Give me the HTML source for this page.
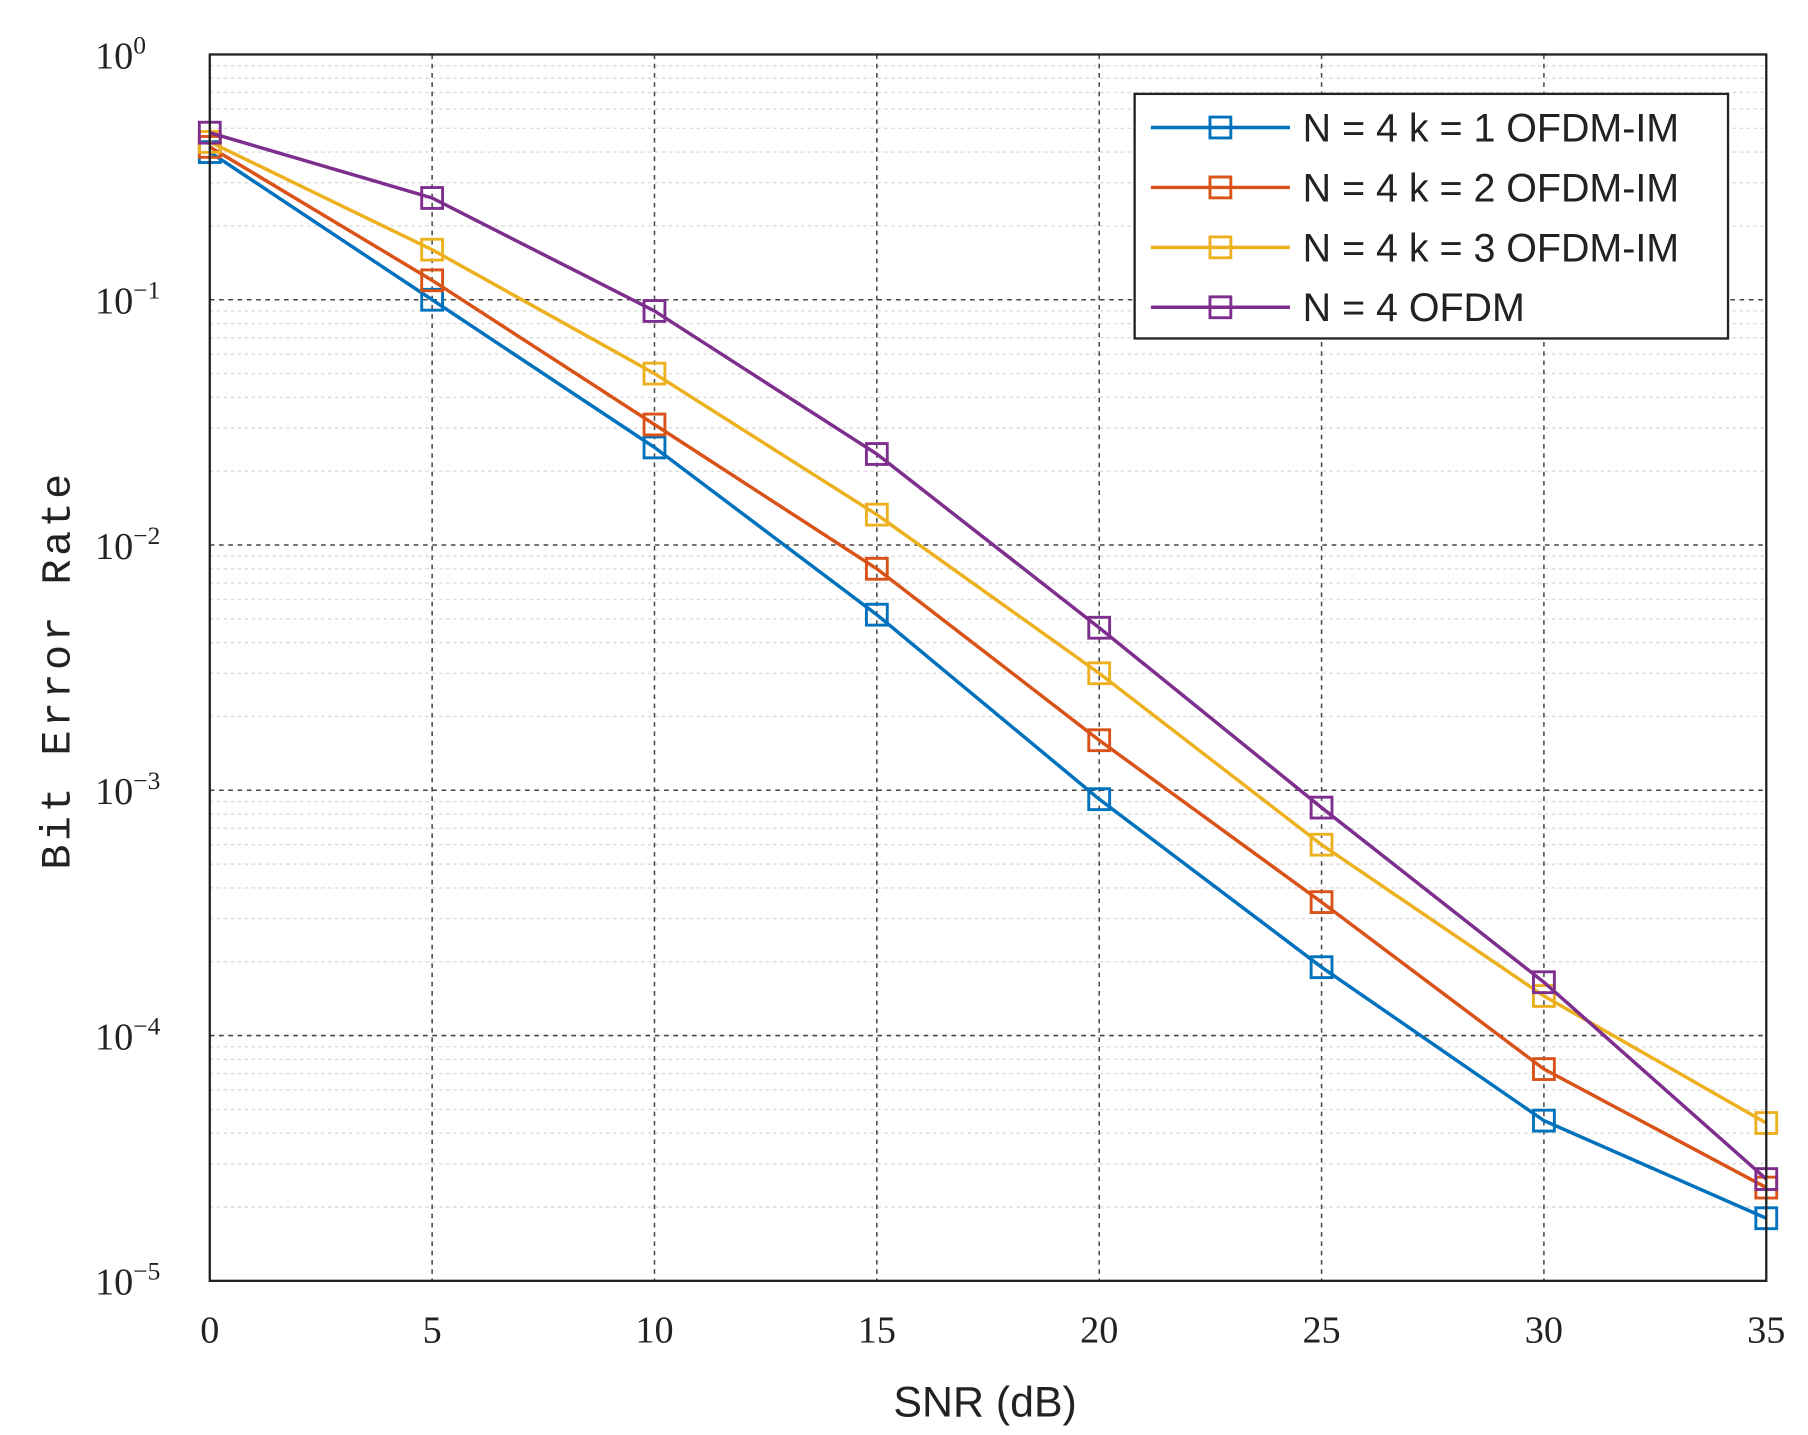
<!DOCTYPE html>
<html><head><style>html,body{margin:0;padding:0;background:#fff}svg{display:block}</style></head>
<body>
<svg id="s" width="1808" height="1435" viewBox="0 0 1560 1238" preserveAspectRatio="none" xmlns="http://www.w3.org/2000/svg">
<rect width="1560" height="1238" fill="#fff"/>
<g id="grid"></g>
<g id="series"></g>
<rect x="181" y="47" width="1343" height="1058" fill="none" stroke="#222" stroke-width="2"/>
<g id="ticks" font-family="Liberation Serif, serif" font-size="33" fill="#222"></g>
<text x="850" y="1222" font-family="Liberation Sans, sans-serif" font-size="37" text-anchor="middle" fill="#222">SNR (dB)</text>
<text transform="translate(60,578) rotate(-90)" font-family="Liberation Mono, monospace" font-size="36" text-anchor="middle" fill="#222" letter-spacing="3">Bit Error Rate</text>
<rect x="979" y="81" width="512" height="211" fill="#fff" stroke="#222" stroke-width="2"/>
<g id="legend" font-family="Liberation Sans, sans-serif" font-size="34" fill="#222"></g>
</svg>
<script>
const NS="http://www.w3.org/2000/svg";
function el(p,t,a,txt){const e=document.createElementNS(NS,t);for(const k in a)e.setAttribute(k,a[k]);if(txt!==undefined)e.textContent=txt;p.appendChild(e);return e;}
const X0=181,X1=1524,Y0=47,DEC=211.6;
const xp=v=>X0+(X1-X0)*v/35, yp=v=>Y0-DEC*Math.log10(v);
const g=document.getElementById('grid');
for(let d=0;d<5;d++)for(let m=2;m<=9;m++){const y=yp(m*Math.pow(10,-d-1));el(g,'line',{x1:X0,x2:X1,y1:y,y2:y,stroke:'#dcdcdc','stroke-width':1.2,'stroke-dasharray':'3,3'});}
for(let d=1;d<5;d++){const y=Y0+d*DEC;el(g,'line',{x1:X0,x2:X1,y1:y,y2:y,stroke:'#444','stroke-width':1.3,'stroke-dasharray':'4,4'});}
for(let i=1;i<7;i++){const x=xp(i*5);el(g,'line',{x1:x,x2:x,y1:Y0,y2:1105,stroke:'#444','stroke-width':1.3,'stroke-dasharray':'4,4'});}
const t=document.getElementById('ticks');
for(let i=0;i<=7;i++){el(t,'text',{x:xp(i*5),y:1158,'text-anchor':'middle'},String(i*5));}
for(let d=0;d<=5;d++){const y=Y0+d*DEC+12;const tx=el(t,'text',{x:82,y:y});el(tx,'tspan',{},'10');el(tx,'tspan',{dy:-13,'font-size':22},d?'\u2212'+d:'0');}
const S=[
['#0072BD','N = 4 k = 1 OFDM-IM',[0.4,0.1,0.025,0.0052,0.00092,0.00019,4.5e-5,1.8e-5]],
['#D95319','N = 4 k = 2 OFDM-IM',[0.42,0.12,0.031,0.008,0.0016,0.00035,7.3e-5,2.4e-5]],
['#EDB120','N = 4 k = 3 OFDM-IM',[0.44,0.16,0.05,0.0133,0.003,0.0006,0.000145,4.4e-5]],
['#7E2F8E','N = 4 OFDM',[0.48,0.26,0.09,0.0235,0.0046,0.00085,0.000165,2.6e-5]]];
const sg=document.getElementById('series'),lg=document.getElementById('legend');
S.forEach((s,i)=>{const pts=s[2].map((v,j)=>[xp(j*5),yp(v)]);
el(sg,'polyline',{points:pts.map(p=>p.join(',')).join(' '),fill:'none',stroke:s[0],'stroke-width':3});
pts.forEach(p=>el(sg,'rect',{x:p[0]-9,y:p[1]-9,width:18,height:18,fill:'none',stroke:s[0],'stroke-width':2.5}));
const y=110+i*51.7;
el(lg,'line',{x1:993,x2:1113,y1:y,y2:y,stroke:s[0],'stroke-width':3});
el(lg,'rect',{x:1044,y:y-9,width:18,height:18,fill:'none',stroke:s[0],'stroke-width':2.5});
el(lg,'text',{x:1124,y:y+12},s[1]);});
</script>
</body></html>
